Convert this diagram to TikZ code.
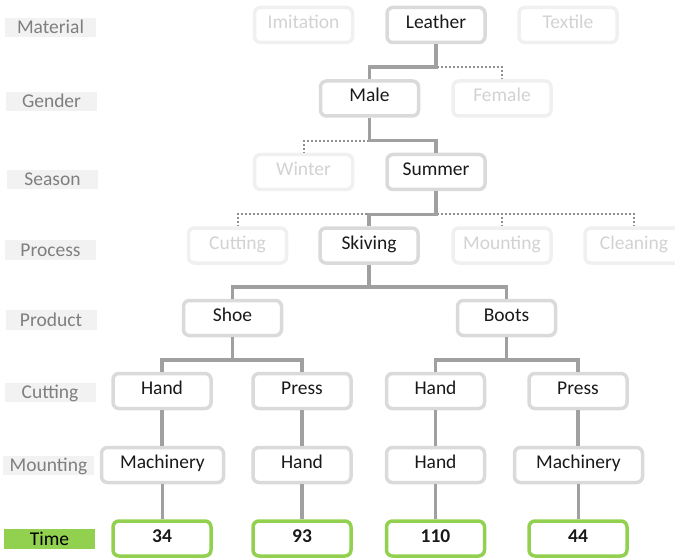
\documentclass[tikz,border=0pt]{standalone}
\usepackage{fontspec}
\setmainfont{Carlito}
\usepackage{tikz}

\definecolor{boxgray}{HTML}{DADADA}
\definecolor{dimgray}{HTML}{F0F0F0}
\definecolor{dimtext}{HTML}{D2D2D2}
\definecolor{linkgray}{HTML}{A0A0A0}
\definecolor{dotgray}{HTML}{8F8F8F}
\definecolor{tierfill}{HTML}{F2F2F2}
\definecolor{tiertext}{HTML}{7F7F7F}
\definecolor{timegreen}{HTML}{92D050}

\begin{document}
\begin{tikzpicture}[
		x = 1pt, y = -1pt,
		font = \fontsize{19.5}{23}\selectfont,
		every node/.style = {inner sep=0pt},
		box/.style = {draw=boxgray, line width=3.5pt, rounded corners=6pt, text=black!90,
			minimum width=98pt, minimum height=35pt, text height=14pt, text depth=7pt},
		dim/.style = {box, draw=dimgray, text=dimtext},
		result/.style = {box, draw=timegreen, font=\fontsize{19.5}{23}\selectfont\bfseries},
		tier/.style = {fill=tierfill, text=tiertext, minimum width=91pt, minimum height=19.5pt,
			text height=12.6pt, text depth=0pt},
		link/.style = {draw=linkgray, line width=3.5pt,
			to path={(\tikztostart.south) |- ([yshift=12pt]\tikztotarget.north) -- (\tikztotarget.north)}},
		drop/.style = {link, to path={(\tikztostart.south) -- (\tikztostart.south |- \tikztotarget.north)}},
		faint/.style = {link, draw=dotgray, line width=2pt, dotted}
		]
		\useasboundingbox (0,0) rectangle (675,559);
		\node[tier] (gMat) at (50.5,27.5) {Material};
		\node[tier] (gGen) at (51.5,101.5) {Gender};
		\node[tier] (gSea) at (52.5,179.5) {Season};
		\node[tier] (gPro) at (50.5,250) {Process};
		\node[tier] (gPrd) at (51,320) {Product};
		\node[tier] (gCut) at (50,392.5) {Cutting};
		\node[tier] (gMou) at (48.5,465.5) {Mounting};
		\node[tier, fill=timegreen, text=black] (gTim) at (49.5,539) {Time};
		\node[dim] (Imit) at (303.5,25) {Imitation};
		\node[box] (Leat) at (436,25) {Leather};
		\node[dim] (Text) at (568,25) {Textile};
		\node[box] (Male) at (369.5,98.5) {Male};
		\node[dim] (Fema) at (502,98.5) {Female};
		\node[dim] (Wint) at (303.5,172) {Winter};
		\node[box] (Summ) at (436,172) {Summer};
		\node[dim] (Cutt) at (237.5,245.5) {Cutting};
		\node[box] (Skiv) at (369,245.5) {Skiving};
		\node[dim] (Moun) at (502,245.5) {Mounting};
		\node[dim] (Clea) at (634,245.5) {Cleaning};
		\node[box] (Shoe) at (232.5,318) {Shoe};
		\node[box] (Boot) at (506.5,318) {Boots};
		\node[box] (C1) at (162,391) {Hand};
		\node[box] (C2) at (302,391) {Press};
		\node[box] (C3) at (435.5,391) {Hand};
		\node[box] (C4) at (578,391) {Press};
		\node[box, minimum width=122pt] (M1) at (162.5,465) {Machinery};
		\node[box] (M2) at (302,465) {Hand};
		\node[box] (M3) at (435.5,465) {Hand};
		\node[box, minimum width=128pt] (M4) at (578.5,465) {Machinery};
		\node[result] (T1) at (162,538.5) {34};
		\node[result] (T2) at (302,538.5) {93};
		\node[result] (T3) at (435.5,538.5) {110};
		\node[result] (T4) at (578,538.5) {44};
		\path
		(Leat) edge[faint] (Fema)
		(Male) edge[faint] (Wint)
		(Summ) edge[faint] (Cutt)
		(Summ) edge[faint] (Moun)
		(Summ) edge[faint] (Clea);
		\path
		(Leat) edge[link] (Male)
		(Male) edge[link] (Summ)
		(Summ) edge[link] (Skiv)
		(Skiv) edge[link] (Shoe)
		(Skiv) edge[link] (Boot)
		(Shoe) edge[link] (C1)
		(Shoe) edge[link] (C2)
		(Boot) edge[link] (C3)
		(Boot) edge[link] (C4)
		(C1) edge[drop] (M1)
		(C2) edge[drop] (M2)
		(C3) edge[drop] (M3)
		(C4) edge[drop] (M4)
		(M1) edge[drop] (T1)
		(M2) edge[drop] (T2)
		(M3) edge[drop] (T3)
		(M4) edge[drop] (T4);
\end{tikzpicture}
\end{document}
